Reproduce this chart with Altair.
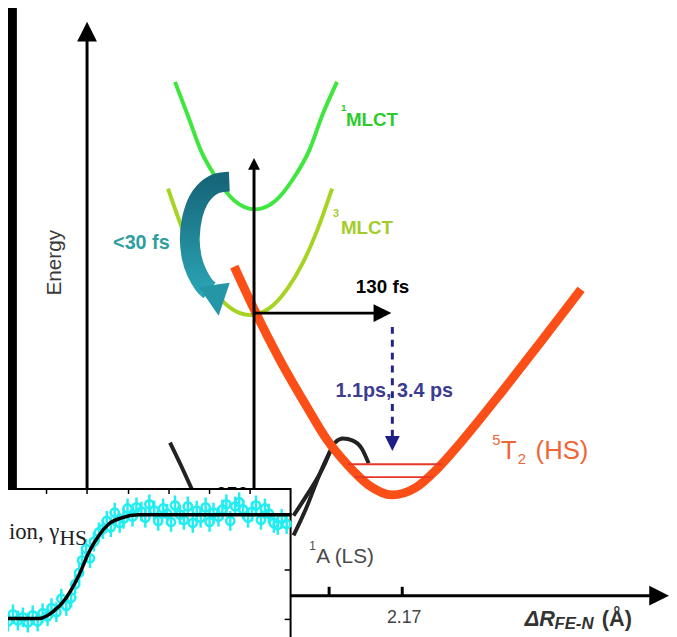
import altair as alt
import pandas as pd

# ---------------- data (diagram pixel frame) ----------------
# potential-energy curves
mlct1_x = [177, 190, 203, 220, 237, 258, 279, 296, 313, 326, 341]
mlct1_y = [79, 113, 148, 178, 199, 208, 199, 178, 148, 113, 79]

mlct3_x = [170, 185, 200, 215, 232, 253, 274, 291, 306, 321, 336]
mlct3_y = [187, 229, 262, 288, 307, 315, 307, 288, 263, 229, 187]

hs_x = [237, 258, 283, 310, 330, 352, 373, 397, 420, 443, 467, 502, 545, 588]
hs_y = [266, 311, 360, 407, 440, 467, 487, 497, 490, 470, 443, 400, 345, 289]

ls_left_x = [172, 183, 194, 205]
ls_left_y = [444, 467, 491, 515]
ls_a_x = [297, 310, 323, 332, 339, 347, 357, 366, 373]
ls_a_y = [538, 510, 477, 457, 444, 440, 442, 450, 465]
ls_b_x = [297, 310, 320, 328, 334]
ls_b_y = [518, 498, 482, 467, 453]

# vibrational levels in the HS well
vib_x1 = [352, 359]
vib_x2 = [447, 438]
vib_y = [466, 479]

# teal curved arrow (<30 fs)
teal_x = [232, 216, 203, 195, 192, 194, 199, 206, 212]
teal_y = [180, 183, 195, 214, 237, 257, 272, 284, 290]

# inset: HS fraction vs delay
inset_x = [3, 8, 13, 18, 23, 28, 33, 38, 43, 48, 52, 57, 62, 67, 72, 76, 80, 83, 87, 91,
           95, 100, 104, 108, 112, 116, 121, 125, 129, 134, 138, 143, 147, 151, 156, 160,
           165, 169, 173, 177, 182, 186, 190, 195, 199, 203, 208, 212, 216, 221, 225, 229,
           233, 238, 242, 246, 251, 255, 259, 264, 268, 272, 277, 281, 285, 290]
inset_g = [0.02, -0.03, 0.04, -0.02, 0.01, -0.04, 0.03, -0.03, 0.05, 0.02, 0.10, 0.06,
           0.19, 0.12, 0.20, 0.33, 0.44, 0.56, 0.67, 0.58, 0.74, 0.83, 0.86, 0.94, 0.88,
           1.02, 0.92, 0.96, 1.06, 0.98, 1.07, 1.03, 0.97, 1.10, 1.04, 0.94, 1.06, 1.01,
           0.93, 1.09, 1.00, 0.95, 1.08, 0.92, 1.04, 0.97, 1.07, 0.93, 1.02, 0.98, 1.05,
           1.10, 0.94, 1.08, 1.12, 1.05, 0.97, 1.03, 1.09, 0.95, 1.06, 1.01, 0.92, 0.90,
           0.96, 0.91]
inset_err = 0.095
fit_x = [0, 40, 53, 67, 80, 90, 100, 110, 123, 140, 295]
fit_g = [0.0, 0.0, 0.06, 0.20, 0.42, 0.64, 0.80, 0.91, 0.97, 1.0, 1.0]
inset_top_ticks = [5, 47, 88, 130, 171, 212, 253]
inset_right_ticks = [523, 573, 623]

# axis ticks on the ΔR axis
r_ticks = [333, 407]

# ---------------- frame ----------------
W, H = 669, 629
XS = alt.Scale(domain=[8, 8 + W], nice=False, zero=False)
YS = alt.Scale(domain=[8 + H, 8], nice=False, zero=False)
IY0, ISPAN = 622, 105   # inset: gamma 0 and gamma 1 levels


def X(f="x"):
    return alt.X(f"{f}:Q", scale=XS, axis=None)


def Y(f="y"):
    return alt.Y(f"{f}:Q", scale=YS, axis=None)


def curve(xs_, ys_, **mk):
    df = pd.DataFrame({"x": xs_, "y": ys_, "i": list(range(len(xs_)))})
    return alt.Chart(df).mark_line(**mk).encode(x=X(), y=Y(), order=alt.Order("i:Q"))


def seg(x1, y1, x2, y2, **mk):
    df = pd.DataFrame({"x": x1, "y": y1, "x2": x2, "y2": y2})
    return alt.Chart(df).mark_rule(**mk).encode(x=X(), y=Y(), x2="x2:Q", y2="y2:Q")


def box(x1, y1, x2, y2, **mk):
    df = pd.DataFrame({"x": x1, "y": y1, "x2": x2, "y2": y2})
    return alt.Chart(df).mark_rect(**mk).encode(x=X(), y=Y(), x2="x2:Q", y2="y2:Q")


def label(items, **mk):
    df = pd.DataFrame(items, columns=["x", "y", "t"])
    return alt.Chart(df).mark_text(**mk).encode(x=X(), y=Y(), text="t:N")


SANS = "Liberation Sans"
TRI = "M0,-1L1,1L-1,1Z"

layers = []
# black border strip on the left
layers.append(box([0], [0], [17], [490], color="black"))

# curves
layers.append(curve(mlct1_x, mlct1_y, color="#3ee63e", strokeWidth=4, interpolate="monotone"))
layers.append(curve(mlct3_x, mlct3_y, color="#a6d423", strokeWidth=4, interpolate="monotone"))
layers.append(curve(ls_left_x, ls_left_y, color="#222222", strokeWidth=4))
layers.append(curve(ls_a_x, ls_a_y, color="#222222", strokeWidth=4, interpolate="monotone"))
layers.append(curve(ls_b_x, ls_b_y, color="#222222", strokeWidth=4, interpolate="monotone"))
layers.append(curve(hs_x, hs_y, color="#fb4f17", strokeWidth=9, interpolate="monotone"))
layers.append(seg(vib_x1, vib_y, vib_x2, vib_y, color="#e8352a", strokeWidth=2))

# teal curved arrow
teal_grad = alt.Gradient(
    gradient="linear", x1=0, x2=0, y1=0, y2=1,
    stops=[alt.GradientStop(color="#17677a", offset=0),
           alt.GradientStop(color="#2aa3b3", offset=1)])
layers.append(curve(teal_x, teal_y, stroke=teal_grad, strokeWidth=20,
                    strokeCap="butt", interpolate="cardinal"))

# axes and arrows
layers.append(seg([88, 257, 293, 257], [30, 165, 599, 313],
                  [88, 257, 660, 380], [637, 637, 599, 313],
                  color="black", strokeWidth=3))
layers.append(seg(r_ticks, [590] * len(r_ticks), r_ticks, [599] * len(r_ticks),
                  color="black", strokeWidth=3))
layers.append(seg([397], [327], [397], [440], color="#23238a", strokeWidth=3,
                  strokeDash=[7, 6]))

heads = pd.DataFrame({
    "x": [88, 257, 667, 387, 397, 219],
    "y": [28, 162, 599, 313, 445, 300],
    "a": [0, 0, 90, 90, 180, 172],
    "s": [400, 144, 400, 324, 225, 1000],
    "c": ["black", "black", "black", "black", "#1e1e86", "#2596a6"],
})
layers.append(alt.Chart(heads).mark_point(shape=TRI, filled=True, opacity=1).encode(
    x=X(), y=Y(), angle=alt.Angle("a:Q", scale=None), size=alt.Size("s:Q", scale=None),
    color=alt.Color("c:N", scale=None)))

# labels
layers.append(label([[56, 262, "Energy"]], font=SANS, fontSize=21, angle=270,
                    align="center", baseline="middle", color="#3a3a3a"))
layers.append(label([[143, 242, "<30 fs"]], font=SANS, fontSize=20, fontWeight="bold",
                    align="center", color="#2f9ea0"))
layers.append(label([[345, 105, "1"]], font=SANS, fontSize=10, fontWeight="bold",
                    align="left", color="#2bcc2b"))
layers.append(label([[350, 118, "MLCT"]], font=SANS, fontSize=19, fontWeight="bold",
                    align="left", color="#2bcc2b"))
layers.append(label([[337, 213, "3"]], font=SANS, fontSize=11, fontWeight="bold",
                    align="left", color="#a3cc2a"))
layers.append(label([[345, 227, "MLCT"]], font=SANS, fontSize=19, fontWeight="bold",
                    align="left", color="#a3cc2a"))
layers.append(label([[387, 287, "130 fs"]], font=SANS, fontSize=19, fontWeight="bold",
                    align="center", color="black"))
layers.append(label([[399, 392, "1.1ps, 3.4 ps"]], font=SANS, fontSize=20, fontWeight="bold",
                    align="center", color="#3c3c90"))
layers.append(label([[498, 441, "5"]], font=SANS, fontSize=15, align="left", color="#ef6535"))
layers.append(label([[507, 453, "T"], [542, 453, "(HS)"]], font=SANS, fontSize=26,
                    align="left", color="#ef6535"))
layers.append(label([[524, 461, "2"]], font=SANS, fontSize=15, align="left", color="#ef6535"))
layers.append(label([[313, 549, "1"]], font=SANS, fontSize=12, align="left", color="#4a4a4a"))
layers.append(label([[320, 560, "A (LS)"]], font=SANS, fontSize=21, align="left",
                    color="#4a4a4a"))
layers.append(label([[409, 622, "2.17"]], font=SANS, fontSize=18, align="center",
                    color="#444444"))
layers.append(label([[531, 623, "ΔR"]], font=SANS, fontSize=22, fontWeight="bold",
                    fontStyle="italic", align="left", color="#333333"))
layers.append(label([[561, 628, "FE-N"]], font=SANS, fontSize=17, fontWeight="bold",
                    fontStyle="italic", align="left", color="#333333"))
layers.append(label([[609, 623, "(Å)"]], font=SANS, fontSize=22, fontWeight="bold",
                    align="left", color="#333333"))
layers.append(label([[218, 497, "650 ps"]], font=SANS, fontSize=20, fontWeight="bold",
                    align="left", color="black"))

# ---------------- inset ----------------
layers.append(box([-20], [491], [294], [670], fill="white", stroke="black", strokeWidth=2))
layers.append(seg(inset_top_ticks, [492] * len(inset_top_ticks), inset_top_ticks,
                  [496] * len(inset_top_ticks), color="black", strokeWidth=1.5))
layers.append(seg([288] * len(inset_right_ticks), inset_right_ticks,
                  [294] * len(inset_right_ticks), inset_right_ticks,
                  color="black", strokeWidth=1.5))

pts = pd.DataFrame({"x": inset_x, "g": inset_g})
base = alt.Chart(pts).transform_calculate(
    y=f"{IY0} - datum.g * {ISPAN}",
    ylo=f"{IY0} - (datum.g - {inset_err}) * {ISPAN}",
    yhi=f"{IY0} - (datum.g + {inset_err}) * {ISPAN}",
)
layers.append(base.mark_rule(color="#22eef2", strokeWidth=2.5).encode(
    x=X(), y=Y("ylo"), y2="yhi:Q"))
layers.append(base.mark_point(shape="circle", filled=False, color="#22eef2", size=70,
                              strokeWidth=2.5, opacity=1).encode(x=X(), y=Y()))

fit = pd.DataFrame({"x": fit_x, "g": fit_g, "i": list(range(len(fit_x)))})
layers.append(alt.Chart(fit).transform_calculate(y=f"{IY0} - datum.g * {ISPAN}")
              .mark_line(color="black", strokeWidth=3.5, interpolate="monotone")
              .encode(x=X(), y=Y(), order=alt.Order("i:Q")))

layers.append(label([[60, 535, "ion, γ"]], font="Liberation Serif", fontSize=23,
                    align="right", color="#222222"))
layers.append(label([[60, 541, "HS"]], font="Liberation Serif", fontSize=22,
                    align="left", color="#222222"))

chart = alt.layer(*layers).properties(
    width=W, height=H, padding=0,
    autosize=alt.AutoSizeParams(type="none"),
    background="white",
).configure_view(stroke=None)

chart.save("out.html", embed_options={"renderer": "svg", "actions": False})
